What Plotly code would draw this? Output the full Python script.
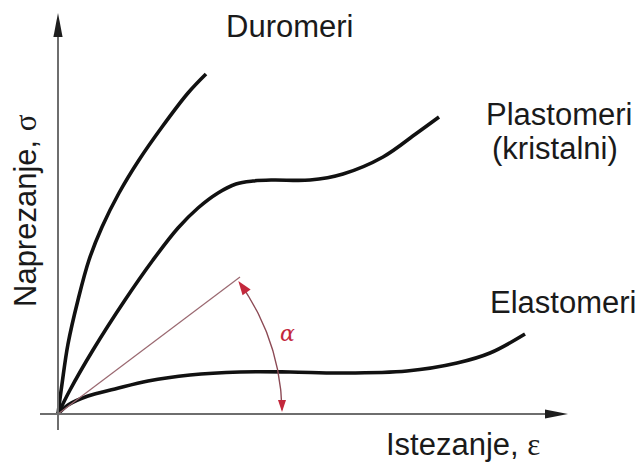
import numpy as np
import plotly.graph_objects as go

# Data (strain, stress), arbitrary units
duro_x = [0, 4, 10, 20, 31, 44, 61, 81, 104, 130, 148]
duro_y = [0, 30, 70, 114, 154, 187, 221, 254, 287, 321, 340]

plast_x = [0, 12, 35, 67, 95, 120, 140, 160, 178, 195, 215, 252, 285, 325, 359, 381]
plast_y = [0, 24, 64, 114, 154, 186, 206, 221, 230, 233, 234, 234, 240, 257, 281, 297]

elast_x = [0, 10, 30, 57, 90, 132, 182, 232, 282, 349, 399, 432, 467]
elast_y = [0, 9, 18, 25, 33, 39, 42, 42, 41, 43, 51, 61, 80]

slope_x = [0, 182]
slope_y = [0, 137]

labels = {
    "duro": "Duromeri",
    "plast1": "Plastomeri",
    "plast2": "(kristalni)",
    "elast": "Elastomeri",
    "xlab": "Istezanje, <span style='font-family:Liberation Serif'>ε</span>",
    "ylab": "Naprezanje, <span style='font-family:Liberation Serif'>σ</span>",
    "alpha": "<i>α</i>",
}

# page has an 8px body margin: figure is drawn 8px in from the window corner
PAGE_W, PAGE_H, BODY = 644, 468, 8
W, H = PAGE_W - BODY, PAGE_H - BODY
X0, Y0 = 58 - BODY, 414 - BODY  # origin position inside the figure (px)

fig = go.Figure()

curve_style = dict(color="#111111", width=3.6, shape="spline", smoothing=1.0)
for xs, ys in [(duro_x, duro_y), (plast_x, plast_y), (elast_x, elast_y)]:
    fig.add_trace(go.Scatter(x=xs, y=ys, mode="lines", line=curve_style,
                             hoverinfo="skip", showlegend=False))

# slope (modulus) line
fig.add_trace(go.Scatter(x=slope_x, y=slope_y, mode="lines",
                         line=dict(color="#9a6870", width=1.2),
                         hoverinfo="skip", showlegend=False))

# angle arc
R = 224
th_end = np.arctan2(slope_y[1], slope_x[1])
th = np.linspace(0.02, th_end - 0.03, 60)
fig.add_trace(go.Scatter(x=R * np.cos(th), y=R * np.sin(th), mode="lines",
                         line=dict(color="#8c4a55", width=1.4),
                         hoverinfo="skip", showlegend=False))

red = "#c3283c"


def tri(tip, direction, length, half):
    d = np.array(direction, float)
    d /= np.linalg.norm(d)
    n = np.array([-d[1], d[0]])
    tip = np.array(tip, float)
    base = tip - d * length
    p1 = base + n * half
    p2 = base - n * half
    return f"M {tip[0]} {tip[1]} L {p1[0]} {p1[1]} L {p2[0]} {p2[1]} Z"


shapes = []
ax_col = "#6e6e6e"
shapes.append(dict(type="line", x0=0, y0=-16, x1=0, y1=380, line=dict(color=ax_col, width=2)))
shapes.append(dict(type="line", x0=-18, y0=0, x1=490, y1=0, line=dict(color=ax_col, width=2)))
shapes.append(dict(type="path", path=tri((0, 401), (0, 1), 24, 4.6),
                   fillcolor="#1e1e1e", line=dict(width=0)))
shapes.append(dict(type="path", path=tri((510, 0), (1, 0), 23, 4.6),
                   fillcolor="#1e1e1e", line=dict(width=0)))
t_top = th_end - 0.01
shapes.append(dict(type="path",
                   path=tri((R * np.cos(t_top), R * np.sin(t_top)),
                            (-np.sin(t_top), np.cos(t_top)), 14, 5),
                   fillcolor=red, line=dict(width=0)))
shapes.append(dict(type="path",
                   path=tri((R, 2), (0, -1), 12, 4),
                   fillcolor=red, line=dict(width=0)))

font = dict(family="Liberation Sans, Arial, sans-serif", size=31, color="#1a1a1a")
ann = [
    dict(x=231, y=388, text=labels["duro"]),
    dict(x=501, y=300, text=labels["plast1"]),
    dict(x=497, y=266, text=labels["plast2"]),
    dict(x=505, y=112, text=labels["elast"]),
    dict(x=405, y=-30, text=labels["xlab"]),
    dict(x=-33, y=203, text=labels["ylab"], textangle=-90),
]
annotations = []
for a in ann:
    a.update(xref="x", yref="y", showarrow=False, font=font,
             xanchor="center", yanchor="middle")
    annotations.append(a)
annotations.append(dict(x=229, y=81, xref="x", yref="y", text=labels["alpha"],
                        showarrow=False,
                        font=dict(family="DejaVu Serif", size=22, color=red),
                        xanchor="center", yanchor="middle"))

fig.update_layout(
    width=W, height=H, autosize=False,
    margin=dict(l=0, r=0, t=0, b=0),
    paper_bgcolor="white", plot_bgcolor="white",
    xaxis=dict(range=[-X0, W - X0], visible=False, fixedrange=True),
    yaxis=dict(range=[Y0 - H, Y0], visible=False, fixedrange=True),
    shapes=shapes, annotations=annotations, showlegend=False,
)

fig.write_html("out.html")
